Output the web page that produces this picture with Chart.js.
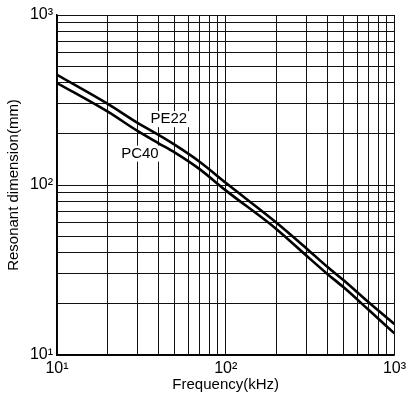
<!DOCTYPE html>
<html>
<head>
<meta charset="utf-8">
<script src="https://cdn.jsdelivr.net/npm/chart.js@4.4.1/dist/chart.umd.min.js"></script>
<style>
  body { margin: 0; background: #fff; }
  canvas { display: block; }
</style>
</head>
<body>
<canvas id="resonantChart" width="410" height="396"></canvas>
<script>
// Frequency points (kHz)
const freq = [10, 20, 30, 40, 50, 70, 100, 200, 300, 400, 500, 700, 1000];
// Resonant dimension (mm)
const pe22 = [445, 300, 232, 197, 172, 137, 103, 60, 42.5, 33, 27.5, 20.5, 15.2];
const pc40 = [398, 270, 208, 176, 155, 124, 93, 55, 38.5, 30, 25, 18.5, 13.4];

// Decade tick labels
const decadeValues = [10, 100, 1000];
const decadeLabels = ['10\u00B9', '10\u00B2', '10\u00B3'];

// Curve names and where they are written (kHz, mm)
const noteText = ['PE22', 'PC40'];
const noteFreq = [46, 31];
const noteValue = [244, 153];

const FONT = "'Liberation Sans', Arial, Helvetica, sans-serif";

// grid at every 1..9 of each decade
function logGrid() {
    var t = [];
    for (var d = 10; d < 1000; d *= 10) {
        for (var m = 1; m < 10; m++) t.push(m * d);
    }
    t.push(1000);
    return t;
}

function tickLabel(value) {
    var i = decadeValues.indexOf(Number(value));
    return i >= 0 ? decadeLabels[i] : '';
}

var curveNotes = {
    id: 'curveNotes',
    beforeDatasetsDraw: function(chart) {
        var ctx = chart.ctx;
        var xs = chart.scales.x, ys = chart.scales.y;
        ctx.save();
        ctx.font = '15px ' + FONT;
        ctx.textAlign = 'center';
        ctx.textBaseline = 'middle';
        for (var i = 0; i < noteText.length; i++) {
            var px = xs.getPixelForValue(noteFreq[i]);
            var py = ys.getPixelForValue(noteValue[i]);
            var w = ctx.measureText(noteText[i]).width;
            ctx.fillStyle = '#fff';
            ctx.fillRect(px - w / 2 - 2, py - 8, w + 4, 16);
            ctx.fillStyle = '#000';
            ctx.fillText(noteText[i], px, py);
        }
        ctx.restore();
    }
};

var ctx = document.getElementById('resonantChart').getContext('2d');

var chart = new Chart(ctx, {
    type: 'scatter',
    data: {
        datasets: [
            {
                label: 'PE22',
                data: freq.map(function(f, i) { return { x: f, y: pe22[i] }; }),
                showLine: true,
                borderColor: '#000',
                borderWidth: 2.6,
                pointRadius: 0,
                cubicInterpolationMode: 'monotone'
            },
            {
                label: 'PC40',
                data: freq.map(function(f, i) { return { x: f, y: pc40[i] }; }),
                showLine: true,
                borderColor: '#000',
                borderWidth: 2.6,
                pointRadius: 0,
                cubicInterpolationMode: 'monotone'
            }
        ]
    },
    options: {
        responsive: false,
        animation: false,
        layout: { padding: { left: 0, right: 13, top: 15, bottom: 0 } },
        plugins: {
            legend: { display: false },
            tooltip: { enabled: false }
        },
        scales: {
            x: {
                type: 'logarithmic',
                min: 10,
                max: 1000,
                afterBuildTicks: function(scale) {
                    scale.ticks = logGrid().map(function(v) { return { value: v }; });
                },
                afterFit: function(scale) { scale.height = 41; },
                grid: { color: '#111', lineWidth: 1, drawTicks: false },
                border: { color: '#000', width: 1.5 },
                ticks: {
                    autoSkip: false,
                    maxRotation: 0,
                    padding: 4,
                    color: '#000',
                    font: { family: FONT, size: 16 },
                    callback: tickLabel
                },
                title: {
                    display: true,
                    text: 'Frequency(kHz)',
                    color: '#000',
                    font: { family: FONT, size: 15 },
                    padding: { top: 0, bottom: 2 }
                }
            },
            y: {
                type: 'logarithmic',
                min: 10,
                max: 1000,
                afterBuildTicks: function(scale) {
                    scale.ticks = logGrid().map(function(v) { return { value: v }; });
                },
                afterFit: function(scale) { scale.width = 57; },
                grid: { color: '#111', lineWidth: 1, drawTicks: false },
                border: { color: '#000', width: 1.5 },
                ticks: {
                    autoSkip: false,
                    padding: 4,
                    color: '#000',
                    font: { family: FONT, size: 16 },
                    callback: tickLabel
                },
                title: {
                    display: true,
                    text: 'Resonant dimension(mm)',
                    color: '#000',
                    font: { family: FONT, size: 15 },
                    padding: { top: 5, bottom: 0 }
                }
            }
        }
    },
    plugins: [curveNotes]
});
</script>
</body>
</html>
